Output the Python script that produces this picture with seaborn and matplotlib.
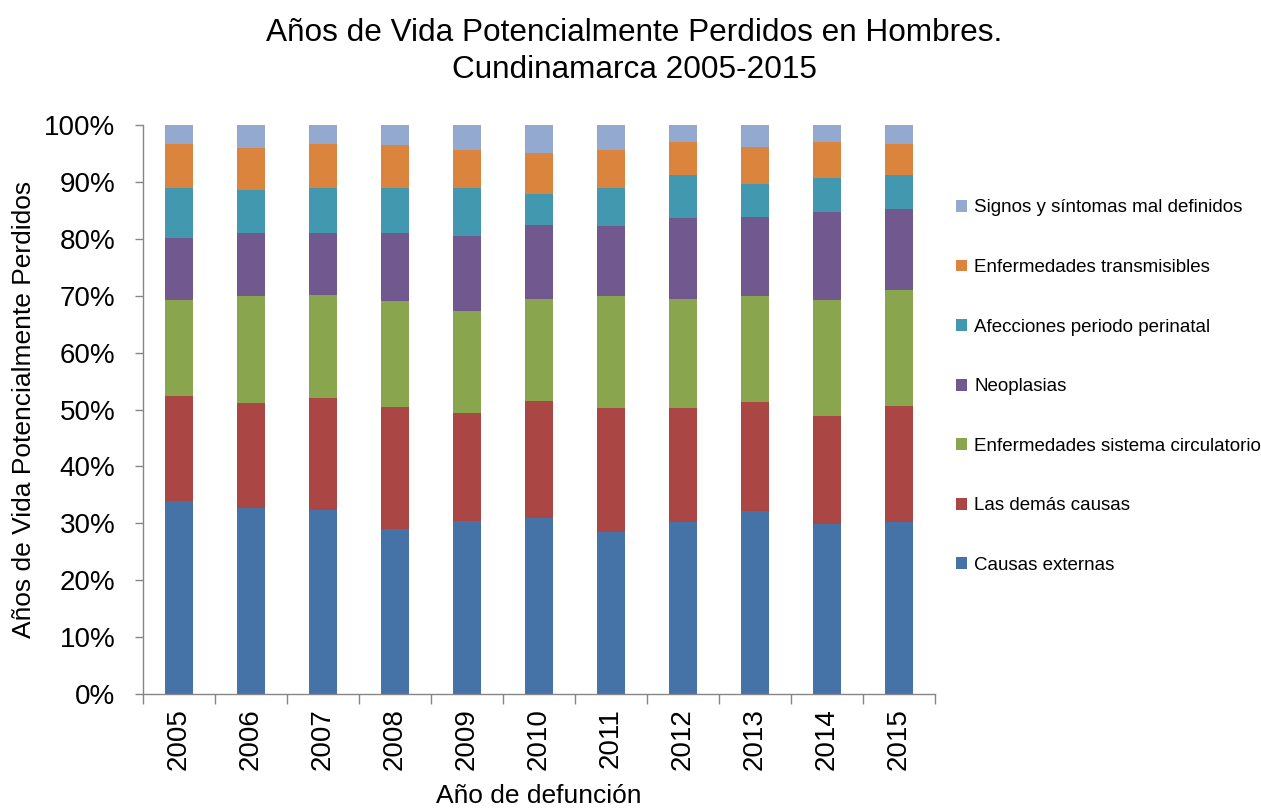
import numpy as np
import pandas as pd
import matplotlib
matplotlib.use("Agg")
import matplotlib.pyplot as plt
import seaborn as sns
from matplotlib.ticker import FixedLocator, PercentFormatter
from matplotlib.patches import Patch
from matplotlib import font_manager

years = ["2005", "2006", "2007", "2008", "2009", "2010", "2011", "2012", "2013", "2014", "2015"]

causas_externas = [33.9, 32.7, 32.3, 29.0, 30.4, 31.0, 28.5, 30.2, 32.2, 29.8, 30.2]
demas_causas = [18.5, 18.4, 19.7, 21.4, 19.0, 20.5, 21.8, 20.1, 19.2, 19.1, 20.4]
circulatorio = [16.8, 18.8, 18.1, 18.7, 17.9, 18.0, 19.6, 19.2, 18.5, 20.4, 20.4]
neoplasias = [10.9, 11.1, 10.9, 11.9, 13.2, 12.9, 12.3, 14.1, 13.9, 15.4, 14.2]
perinatal = [8.8, 7.6, 8.0, 7.9, 8.4, 5.5, 6.7, 7.7, 5.9, 6.0, 6.1]
transmisibles = [7.7, 7.4, 7.6, 7.6, 6.7, 7.2, 6.7, 5.7, 6.4, 6.3, 5.4]
signos = [3.4, 4.0, 3.4, 3.5, 4.4, 4.9, 4.4, 3.0, 3.9, 3.0, 3.3]

series_names = [
    "Causas externas",
    "Las demás causas",
    "Enfermedades sistema circulatorio",
    "Neoplasias",
    "Afecciones periodo perinatal",
    "Enfermedades transmisibles",
    "Signos y síntomas mal definidos",
]
series_values = [causas_externas, demas_causas, circulatorio, neoplasias,
                 perinatal, transmisibles, signos]
colors = ["#4572A7", "#AA4643", "#89A54E", "#71588F", "#4198AF", "#DB843D", "#93A9CF"]

sns.set_style("white")
avail = {f.name for f in font_manager.fontManager.ttflist}
fam = "Liberation Sans Narrow" if "Liberation Sans Narrow" in avail else "Liberation Sans"
plt.rcParams["font.family"] = [fam, "DejaVu Sans"]
plt.rcParams["text.color"] = "black"
plt.rcParams["axes.labelcolor"] = "black"

data = np.array(series_values, dtype=float)
totals = data.sum(axis=0)
pct = data / totals * 100.0
cum = np.cumsum(pct, axis=0)

fig = plt.figure(figsize=(12.61, 8.10), dpi=100)
ax = fig.add_axes([143 / 1261, (810 - 694) / 810, (935 - 143) / 1261, (694 - 125) / 810])

# draw from the top of the stack downwards so each lower layer covers the upper ones
for i in range(len(series_names) - 1, -1, -1):
    df = pd.DataFrame({"year": years, "value": cum[i]})
    sns.barplot(data=df, x="year", y="value", color=colors[i], width=0.4,
                saturation=1, ax=ax, linewidth=0, order=years)

ax.set_xlim(-0.5, len(years) - 0.5)
ax.set_ylim(0, 100)
ax.set_yticks(np.arange(0, 101, 10))
ax.yaxis.set_major_formatter(PercentFormatter(decimals=0))
ax.tick_params(axis="y", labelsize=20, length=6, width=1, color="#868686", labelcolor="black",
               direction="out", left=True, pad=14)
ax.tick_params(axis="x", which="major", labelsize=20, length=0, rotation=90, pad=10, labelcolor="black")
ax.xaxis.set_minor_locator(FixedLocator(np.arange(-0.5, len(years), 1.0)))
ax.tick_params(axis="x", which="minor", length=7, width=1, color="#868686", bottom=True)

for s in ["top", "right"]:
    ax.spines[s].set_visible(False)
for s in ["left", "bottom"]:
    ax.spines[s].set_color("#868686")
    ax.spines[s].set_linewidth(1)

ax.set_xlabel("Año de defunción", fontsize=19, labelpad=10)
ax.set_ylabel("Años de Vida Potencialmente Perdidos", fontsize=19, labelpad=6)

fig.text(0.503, 0.978, "Años de Vida Potencialmente Perdidos en Hombres.\nCundinamarca 2005-2015",
         ha="center", va="top", fontsize=22.7, linespacing=1.3)

handles = [Patch(facecolor=colors[i], edgecolor="none") for i in range(len(series_names) - 1, -1, -1)]
labels = [series_names[i] for i in range(len(series_names) - 1, -1, -1)]
fig.legend(handles, labels, loc="upper left", bbox_to_anchor=(948 / 1261, 1 - 192 / 810),
           frameon=False, fontsize=13.5, handlelength=0.6, handleheight=0.6,
           handletextpad=0.4, labelspacing=2.27, borderaxespad=0)

fig.savefig("out.png", dpi=100)
